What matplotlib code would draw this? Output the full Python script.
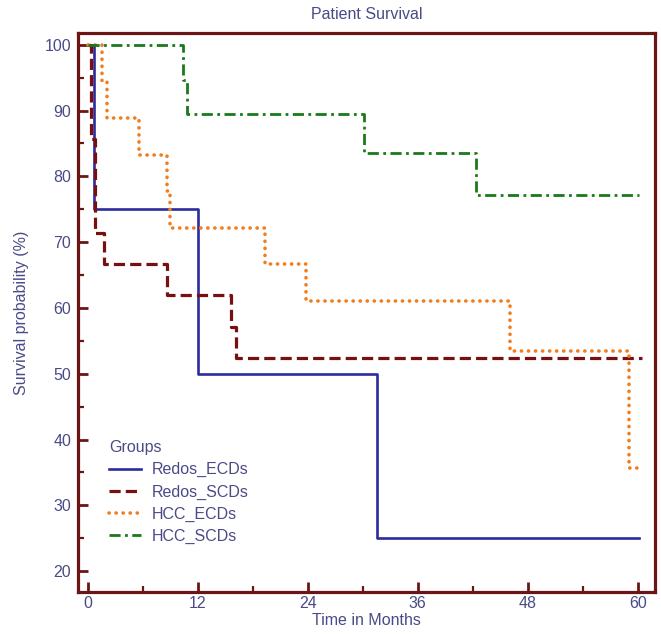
import matplotlib
matplotlib.use("Agg")
import matplotlib.pyplot as plt
import numpy as np

# Kaplan-Meier steps (months, survival %)
redos_ecd_t = [0, 0.7, 12.0, 31.5, 60.2]
redos_ecd_s = [100, 75.0, 50.0, 25.0, 25.0]

redos_scd_t = [0, 0.3, 0.8, 1.7, 8.6, 15.6, 16.2, 60.5]
redos_scd_s = [100, 85.7, 71.4, 66.7, 61.9, 57.1, 52.4, 52.4]

hcc_ecd_t = [0, 1.5, 2.1, 5.6, 8.6, 8.9, 19.3, 23.8, 46.1, 59.1, 60.2]
hcc_ecd_s = [100, 94.4, 88.9, 83.3, 77.8, 72.2, 66.7, 61.1, 53.4, 35.6, 35.6]

hcc_scd_t = [0, 10.4, 10.8, 30.1, 42.4, 60.2]
hcc_scd_s = [100, 94.7, 89.5, 83.6, 77.2, 77.2]

groups = ["Redos_ECDs", "Redos_SCDs", "HCC_ECDs", "HCC_SCDs"]

TXT = "#4a4a88"
FRAME = "#6a1616"
plt.rcParams['font.family'] = ['Liberation Sans Narrow', 'Liberation Sans', 'DejaVu Sans']

fig = plt.figure(figsize=(6.61, 6.34), dpi=100)
ax = fig.add_axes([0.118, 0.066, 0.873, 0.882])

ax.step(redos_ecd_t, redos_ecd_s, where='post', color="#2b2b9c", lw=1.9,
        label=groups[0])
ax.step(redos_scd_t, redos_scd_s, where='post', color="#7a0f0f", lw=2.3,
        linestyle=(0, (3.5, 1.6)), label=groups[1])
ax.step(hcc_ecd_t, hcc_ecd_s, where='post', color="#f07d1e", lw=2.6,
        linestyle=(0, (0.05, 1.9)), dash_capstyle='round', label=groups[2])
ax.step(hcc_scd_t, hcc_scd_s, where='post', color="#1a7a1a", lw=2.0,
        linestyle=(0, (4, 1.6, 1, 1.6)), label=groups[3])

ax.set_xlim(-1.1, 61.9)
ax.set_ylim(16.8, 101.8)
ax.set_xticks(np.arange(0, 61, 12))
ax.set_xticks(np.arange(6, 61, 12), minor=True)
ax.set_yticks(np.arange(20, 101, 10))
ax.set_yticks(np.arange(25, 100, 10), minor=True)

ax.tick_params(which='both', direction='in', color=FRAME, labelcolor=TXT,
               labelsize=11.5)
ax.tick_params(which='major', length=7, width=2)
ax.tick_params(which='minor', length=4, width=1.6)
ax.tick_params(axis='x', pad=3)
ax.tick_params(axis='y', pad=5)

for sp in ax.spines.values():
    sp.set_color(FRAME)
    sp.set_linewidth(2.3)

ax.set_title("Patient Survival", color=TXT, fontsize=11.5, pad=10)
ax.set_xlabel("Time in Months", color=TXT, fontsize=11.5, labelpad=1)
ax.set_ylabel("Survival probability (%)", color=TXT, fontsize=11.5, labelpad=11)

leg = ax.legend(title="Groups", loc='lower left', bbox_to_anchor=(0.029, 0.06),
                frameon=False, fontsize=11.5, title_fontsize=11.5,
                handlelength=2.0, handletextpad=0.65, labelspacing=0.45,
                labelcolor=TXT, alignment='left')
leg.get_title().set_color(TXT)

fig.savefig("out.png", dpi=100)
